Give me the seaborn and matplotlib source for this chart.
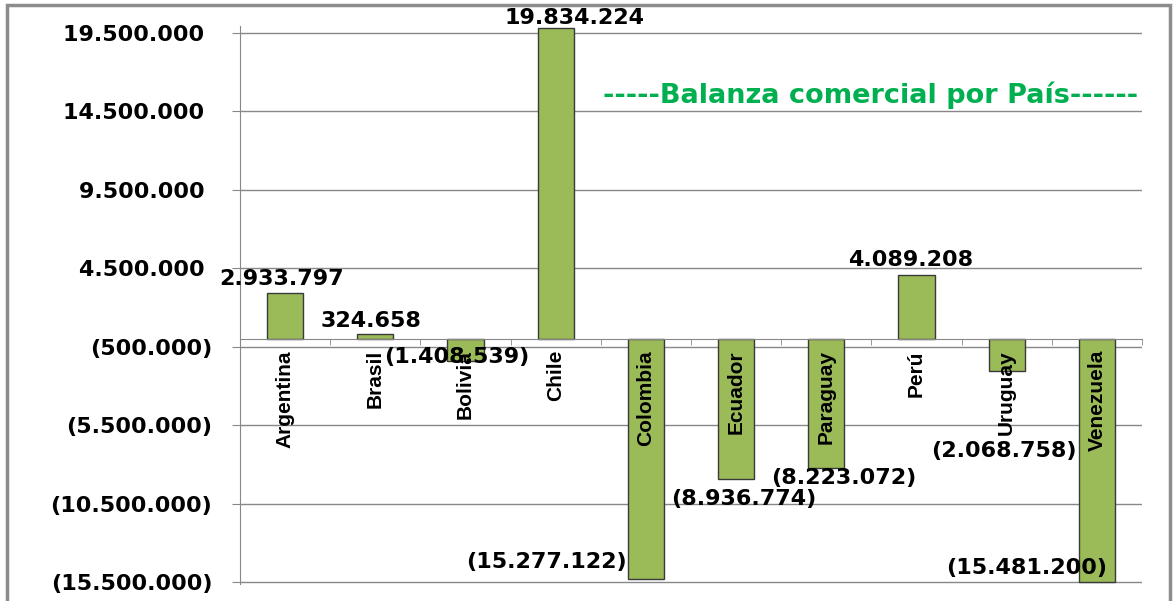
import matplotlib
matplotlib.use("Agg")
import numpy as np
import matplotlib.pyplot as plt
from matplotlib.patches import Rectangle
import seaborn as sns

paises = ["Argentina", "Brasil", "Bolivia", "Chile", "Colombia",
          "Ecuador", "Paraguay", "Perú", "Uruguay", "Venezuela"]
balanza = [2933797, 324658, -1408539, 19834224, -15277122,
           -8936774, -8223072, 4089208, -2068758, -15481200]
y_ticks = [-15500000, -10500000, -5500000, -500000,
           4500000, 9500000, 14500000, 19500000]
titulo = "-----Balanza comercial por País------"

# nudges of the data labels (pixels), like the hand-moved labels in Excel
label_dx = [-4, -4, -9, 19, -99, 8, 17, -6, -3, -70]
label_dy = [14, 13, 4, 10, 17, -20, -10, 15, -80, 14]


def fmt(v):
    s = f"{abs(int(v)):,}".replace(",", ".")
    return f"({s})" if v < 0 else s


sns.set_style("white")
plt.rcParams["font.family"] = ["DejaVu Sans"]
plt.rcParams["text.color"] = "black"
plt.rcParams["xtick.labelcolor"] = "black"
plt.rcParams["ytick.labelcolor"] = "black"

W, H = 1174, 601
fig = plt.figure(figsize=(W / 100, H / 100), dpi=100)
ax = fig.add_axes([240 / W, 17 / H, 902 / W, 558 / H])

sns.barplot(x=paises, y=balanza, color="#9BBB59", saturation=1,
            edgecolor="#3a3a3a", linewidth=1, width=0.4, ax=ax)

grid_col = "#878787"
ax.set_xlim(-0.5, 9.5)
ax.set_ylim(-15620000, 19950000)
ax.set_xlabel("")
ax.set_ylabel("")

ax.set_yticks(y_ticks)
ax.set_yticklabels([fmt(t) + (" " if t > 0 else "") for t in y_ticks],
                   fontsize=16, fontweight="bold", color="black")
ax.grid(axis="y", color=grid_col, lw=1)
ax.set_axisbelow(True)
# category names sit on top of the bars, gridlines stay behind
ax.xaxis.set_zorder(3)

for s in ["top", "right"]:
    ax.spines[s].set_visible(False)
ax.spines["left"].set_color(grid_col)
ax.spines["bottom"].set_color(grid_col)
ax.spines["bottom"].set_position(("data", 0))

ax.tick_params(axis="y", length=6, color=grid_col, pad=14, left=True)
ax.set_xticks(range(len(paises)))
ax.set_xticklabels(paises, rotation=90, va="top", ha="center", color="black",
                   fontsize=15, fontweight="bold", family="Liberation Sans")
ax.tick_params(axis="x", which="major", length=0, pad=8)
ax.set_xticks(np.arange(-0.5, len(paises), 1), minor=True)
ax.tick_params(axis="x", which="minor", length=4, color=grid_col,
               direction="out", bottom=True)

for i, v in enumerate(balanza):
    ax.annotate(fmt(v), xy=(i, v), xytext=(label_dx[i], label_dy[i]),
                textcoords="offset pixels", ha="center", va="center",
                fontsize=16, fontweight="bold", color="black",
                annotation_clip=False, zorder=4)

fig.text(871 / W, 1 - 95 / H, titulo, ha="center", va="center",
         color="#00B050", fontsize=19.5, fontweight="bold")

fig.patches.append(Rectangle((7 / W, -0.02), (1170 - 7) / W, (H - 5) / H + 0.02,
                             transform=fig.transFigure, fill=False,
                             edgecolor="#8c8c8c", lw=2.5))

fig.savefig("out.png", dpi=100)
